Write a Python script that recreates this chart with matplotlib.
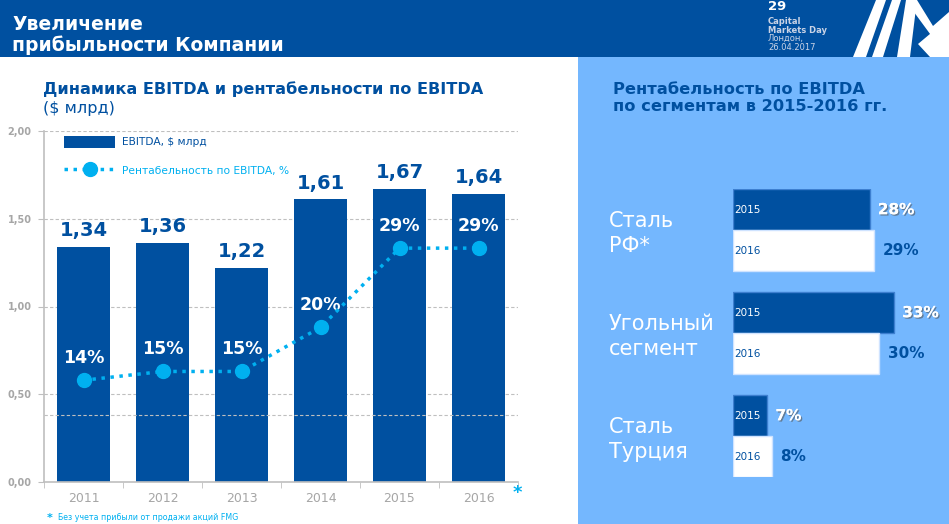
import matplotlib.pyplot as plt
import matplotlib.patheffects as pe
from matplotlib.patches import Rectangle, Polygon, Patch
from matplotlib.lines import Line2D

# --- data ---
years = ['2011', '2012', '2013', '2014', '2015', '2016']
ebitda = [1.34, 1.36, 1.22, 1.61, 1.67, 1.64]
margin = [14, 15, 15, 20, 29, 29]
ebitda_labels = ['1,34', '1,36', '1,22', '1,61', '1,67', '1,64']
yticks = [0.0, 0.5, 1.0, 1.5, 2.0]
ytick_labels = ['0,00', '0,50', '1,00', '1,50', '2,00']

segments = ['Сталь\nРФ*', 'Угольный\nсегмент', 'Сталь\nТурция']
seg_2015 = [28, 33, 7]
seg_2016 = [29, 30, 8]

DARK = '#0050A0'
CYAN = '#00B0F0'
PANEL = '#74B7FE'
GREY = '#A6A6A6'

plt.rcParams['font.family'] = ['DejaVu Sans']

fig = plt.figure(figsize=(9.49, 5.24), dpi=100)

# header band and right panel
fig.patches.append(Rectangle((0, 1 - 57 / 524), 1, 57 / 524, transform=fig.transFigure,
                             facecolor=DARK, edgecolor='none', zorder=-2))
fig.patches.append(Rectangle((578 / 949, 0), 1 - 578 / 949, 1 - 57 / 524, transform=fig.transFigure,
                             facecolor=PANEL, edgecolor='none', zorder=-2))

# logo stripes (decoration)
def px(x, y):
    return (x / 949, 1 - y / 524)

logo = [
    [(853, 57), (866, 57), (886, 0), (876, 0)],
    [(872, 57), (883, 57), (901, 0), (892, 0)],
    [(897, 57), (910, 57), (917, 0), (906, 0)],
    [(906, 0), (917, 0), (933, 26), (949, 12), (949, 24), (933, 38), (911, 8)],
    [(918, 44), (949, 18), (949, 57), (930, 57)],
]
for poly in logo:
    fig.patches.append(Polygon([px(*p) for p in poly], closed=True, transform=fig.transFigure,
                               facecolor='white', edgecolor='none', zorder=-1))

fig.text(12 / 949, 1 - 35 / 524, 'Увеличение\nприбыльности Компании', color='white',
         fontsize=13.5, fontweight='bold', va='center', linespacing=1.15)
fig.text(768 / 949, 1 - 7 / 524, '29', color='white', fontsize=9.5, fontweight='bold', va='center')
fig.text(768 / 949, 1 - 26 / 524, 'Capital\nMarkets Day', color='#C9D3E6', fontsize=6,
         fontweight='bold', va='center', linespacing=1.0)
fig.text(768 / 949, 1 - 43 / 524, 'Лондон,\n26.04.2017', color='#C9D3E6', fontsize=6,
         va='center', linespacing=1.0)

# titles
fig.text(43 / 949, 1 - 89 / 524, 'Динамика EBITDA и рентабельности по EBITDA', color=DARK,
         fontsize=11.6, fontweight='bold', va='center')
fig.text(43 / 949, 1 - 108 / 524, '($ млрд)', color=DARK, fontsize=11.5, va='center')
fig.text(613 / 949, 1 - 98 / 524, 'Рентабельность по EBITDA\nпо сегментам в 2015-2016 гг.',
         color=DARK, fontsize=11.7, fontweight='bold', va='center', linespacing=1.2)

# --- left chart ---
ax = fig.add_axes([44 / 949, 42 / 524, 474 / 949, 351 / 524])
x = list(range(len(years)))
bars = ax.bar(x, ebitda, width=0.66, color=DARK, zorder=2)
ax.set_xlim(-0.5, len(years) - 0.5)
ax.set_ylim(0, 2)
ax.set_yticks(yticks)
ax.set_yticklabels(ytick_labels, fontsize=7, fontweight='bold', color=GREY)
ax.set_xticks(x)
ax.set_xticklabels(years, fontsize=9, color=GREY)
ax.set_xticks([i - 0.5 for i in range(len(years) + 1)], minor=True)
ax.tick_params(axis='x', which='major', length=0, pad=7)
ax.tick_params(axis='x', which='minor', length=4, color='#BFBFBF')
ax.tick_params(axis='y', length=4, color='#BFBFBF', pad=5)
for s in ['top', 'right']:
    ax.spines[s].set_visible(False)
for s in ['left', 'bottom']:
    ax.spines[s].set_color('#BFBFBF')
    ax.spines[s].set_linewidth(1.2)
ax.yaxis.grid(True, color='#BFBFBF', linestyle=(0, (3, 2)), linewidth=0.8, zorder=0)
ax.set_axisbelow(True)
ax.axhline(0.383, color='#BFBFBF', linestyle=(0, (3, 2)), linewidth=0.8, zorder=3)
for b, lab in zip(bars, ebitda_labels):
    ax.annotate(lab, (b.get_x() + b.get_width() / 2, b.get_height()), xytext=(0, 5),
                textcoords='offset points', ha='center', va='bottom', color=DARK,
                fontsize=14, fontweight='bold')
ax.text(5.49, -0.065, '*', color=CYAN, fontsize=13, fontweight='bold', va='center', ha='center')

ax2 = ax.twinx()
ax2.set_ylim(2.45, 42.3)
ax2.axis('off')
ax2.plot(x, margin, linestyle=(0, (1, 1.6)), linewidth=2.5, color=CYAN, marker='o',
         markersize=10, zorder=4)
for xi, m in zip(x, margin):
    ax2.annotate(f'{m}%', (xi, m), xytext=(0, 16), textcoords='offset points', ha='center',
                 va='center', color='white', fontsize=12.5, fontweight='bold')

handles = [Patch(facecolor=DARK, edgecolor='none'),
           Line2D([0], [0], color=CYAN, linestyle=(0, (1, 1.6)), linewidth=2.5, marker='o',
                  markersize=10)]
leg = ax.legend(handles, ['EBITDA, $ млрд', 'Рентабельность по EBITDA, %'], loc='upper left',
                bbox_to_anchor=(0.022, 1.014), frameon=False, fontsize=7.7, handlelength=4.8,
                handleheight=1.35, labelspacing=1.55, handletextpad=0.6)
leg.get_texts()[0].set_color(DARK)
leg.get_texts()[1].set_color(CYAN)

fig.text(47 / 949, 1 - 518 / 524, '*', color=CYAN, fontsize=8, fontweight='bold', va='center')
fig.text(58 / 949, 1 - 518 / 524, 'Без учета прибыли от продажи акций FMG', color=CYAN,
         fontsize=5.7, va='center')

# --- right chart ---
axr = fig.add_axes([733 / 949, 47 / 524, 195 / 949, 288 / 524])
axr.set_xlim(0, 40)
axr.set_ylim(2.395, -0.401)
axr.axis('off')
g = list(range(len(segments)))
y15 = [i - 0.2 for i in g]
y16 = [i + 0.2 for i in g]
axr.barh(y15, seg_2015, height=0.398, color=DARK, edgecolor='#3D7FD0', linewidth=1)
axr.barh(y16, seg_2016, height=0.398, color='white', edgecolor='#CFE3FF', linewidth=1)
shadow = [pe.withSimplePatchShadow(offset=(1, -1), shadow_rgbFace='#555555', alpha=0.6), pe.Normal()]
for yy, v in zip(y15, seg_2015):
    axr.text(0.3, yy, '2015', color='white', fontsize=7.5, va='center')
    axr.annotate(f'{v}%', (v, yy), xytext=(6, 0), textcoords='offset points', va='center',
                 color='white', fontsize=11, fontweight='bold', path_effects=shadow)
for yy, v in zip(y16, seg_2016):
    axr.text(0.3, yy, '2016', color=DARK, fontsize=7.5, va='center')
    axr.annotate(f'{v}%', (v, yy), xytext=(6, 0), textcoords='offset points', va='center',
                 color=DARK, fontsize=11, fontweight='bold')
for gi, name in zip(g, segments):
    axr.text(-0.636, gi + 0.03, name, transform=axr.get_yaxis_transform(), color='white',
             fontsize=15, va='center', ha='left', linespacing=1.35)

fig.savefig('out.png', dpi=100)
